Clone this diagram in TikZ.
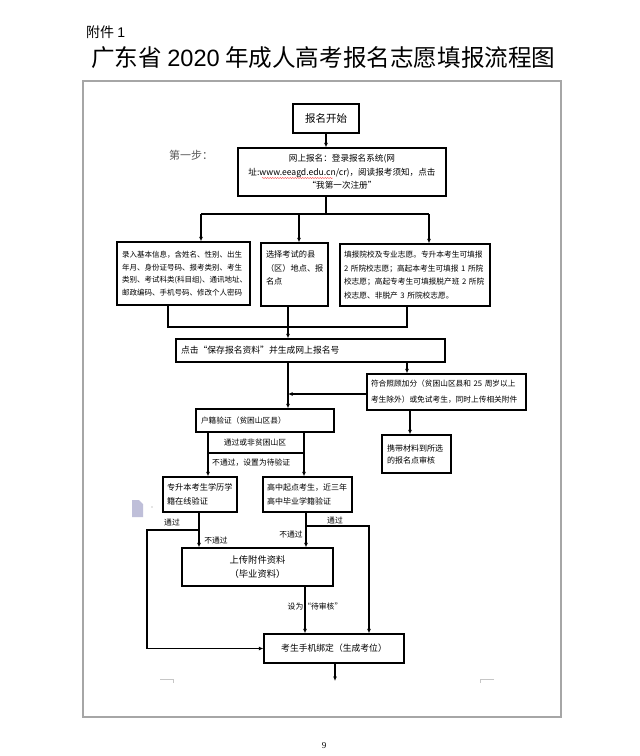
\documentclass[tikz,border=0pt]{standalone}
\usepackage{fontspec}
\setmainfont{Noto Sans CJK SC}
\newfontfamily\seriffont{Liberation Serif}
\newfontfamily\arialfont{Liberation Sans}
\usetikzlibrary{arrows.meta,decorations.pathmorphing}
\begin{document}
\begin{tikzpicture}[x=1pt,y=-1pt,
  box/.style={draw, line width=1.4pt, inner xsep=5pt, inner ysep=0pt, font=\fontsize{7.7}{13.5}\selectfont},
  con/.style={line width=1.2pt},
  arr/.style={con,-{Latex[length=4.5pt,width=4pt]}},
  lbl/.style={font=\fontsize{7.8}{9}\selectfont, inner sep=0pt}
]
\useasboundingbox (0,0) rectangle (640,756);
\fill[white] (0,0) rectangle (640,756);
% header
\node[anchor=west, font=\fontsize{14}{14}\selectfont, inner sep=0pt] (att) at (86,32) {附件 {\arialfont 1}};
\node[anchor=west, font=\fontsize{23.6}{25}\selectfont, inner sep=0pt] (title) at (91,58) {广东省 {\arialfont 2020} 年成人高考报名志愿填报流程图};
% page frame
\draw[gray!70, line width=1.2pt] (83,81) rectangle (561,717);
% step label
\node[font=\fontsize{11}{11}\selectfont, text=black!65, inner sep=0pt] (step1) at (191,155) {第一步：};
% boxes
\node[box, minimum width=66, minimum height=29, font=\fontsize{10.5}{12}\selectfont] (start) at (326,118.5) {报名开始};
\node[box, text width=198, align=center, minimum height=48, font=\fontsize{8.6}{13.5}\selectfont] (reg) at (342,172) {网上报名：登录报名系统(网\\址:www.eeagd.edu.cn/cr)，阅读报考须知，点击\\“我第一次注册”};
\node[box, text width=123, align=left, minimum height=63, font=\fontsize{7.5}{12.7}\selectfont] (info) at (183.5,273.5) {录入基本信息，含姓名、性别、出生\\年月、身份证号码、报考类别、考生\\类别、考试科类(科目组)、通讯地址、\\邮政编码、手机号码、修改个人密码};
\node[box, text width=57, align=left, minimum height=63, font=\fontsize{8.2}{13.5}\selectfont] (county) at (294.5,274.5) {选择考试的县\\（区）地点、报\\名点\\\mbox{}};
\node[box, text width=142, inner xsep=4pt, align=left, minimum height=62] (wish) at (415,275) {填报院校及专业志愿。专升本考生可填报\\2 所院校志愿；高起本考生可填报 1 所院\\校志愿；高起专考生可填报脱产班 2 所院\\校志愿、非脱产 3 所院校志愿。};
\node[box, text width=259, align=left, minimum height=23, font=\fontsize{8.8}{11}\selectfont] (save) at (310.5,350.5) {点击“保存报名资料”并生成网上报名号};
\node[box, text width=151, inner xsep=4pt, align=left, minimum height=36, font=\fontsize{7.7}{16}\selectfont] (bonus) at (446.5,392) {符合照顾加分（贫困山区县和 25 周岁以上\\考生除外）或免试考生，同时上传相关附件};
\node[box, text width=59, align=left, minimum height=38, font=\fontsize{8}{12}\selectfont] (carry) at (416.5,454) {携带材料到所选\\的报名点审核};
\node[box, text width=128, align=left, minimum height=23, font=\fontsize{7.7}{10}\selectfont] (hukou) at (265,420.5) {户籍验证（贫困山区县）};
\node[box, text width=66, inner xsep=4pt, align=left, minimum height=35, font=\fontsize{8.2}{14.5}\selectfont] (zsb) at (200,494.5) {专升本考生学历学\\籍在线验证};
\node[box, text width=81, inner xsep=4pt, align=left, minimum height=35, font=\fontsize{8}{14.5}\selectfont] (gz) at (307.5,494.5) {高中起点考生，近三年\\高中毕业学籍验证};
\node[box, text width=141, align=center, minimum height=38, font=\fontsize{9.3}{14}\selectfont] (upload) at (257.5,567) {上传附件资料\\（毕业资料）};
\node[box, text width=130, align=center, minimum height=29, font=\fontsize{8.8}{11}\selectfont] (phone) at (334,648.5) {考生手机绑定（生成考位）};
% helper coordinates
\coordinate (j1) at (326,214);
\coordinate (jl) at (201,214);
\coordinate (jm) at (299,214);
\coordinate (jr) at (429,214);
\coordinate (cL) at (168,327);
\coordinate (cM) at (288,327);
\coordinate (cR) at (407,327);
\coordinate (sL) at (288,394);
\coordinate (sR) at (407,374);
\coordinate (bC) at (410,435);
\coordinate (hL) at (208,453);
\coordinate (hR) at (304,453);
\coordinate (zB) at (199,530);
\coordinate (zL) at (147,530);
\coordinate (gB) at (306,526);
\coordinate (gR) at (369,526);
\coordinate (uB) at (305,600);
\coordinate (pE) at (335,681);
% connectors
\draw[arr] (start.south) -- (start.south |- reg.north);
\draw[con] (start.south |- reg.south) -- (j1);
\draw[con] (jl) -- (jr);
\draw[arr] (jl) -- (jl |- info.north);
\draw[arr] (jm) -- (jm |- county.north);
\draw[arr] (jr) -- (jr |- wish.north);
\draw[con] (info.south -| cL) -- (cL) -- (cR) -- (wish.south -| cR);
\draw[arr] (county.south -| cM) -- (save.north -| cM);
\draw[arr] (save.south -| sL) -- (hukou.north -| sL);
\draw[arr] (save.south -| sR) -- (bonus.north -| sR);
\draw[arr] (bonus.west |- sL) -- (sL);
\draw[arr] (bonus.south -| bC) -- (carry.north -| bC);
\draw[arr] (hukou.south -| hL) -- (zsb.north -| hL);
\draw[arr] (hukou.south -| hR) -- (gz.north -| hR);
\draw[con] (hL) -- (hR);
\draw[arr] (zsb.south -| zB) -- (upload.north -| zB);
\draw[arr] (zB) -- (zL) -- (zL |- phone.west) -- (phone.west);
\draw[arr] (gz.south -| gB) -- (upload.north -| gB);
\draw[arr] (gB) -- (gR) -- (phone.north -| gR);
\draw[arr] (upload.south -| uB) -- (phone.north -| uB);
\draw[arr] (phone.south -| pE) -- (pE);
% labels
\node[lbl] (t1) at (255,443) {通过或非贫困山区};
\node[lbl, anchor=west] (t2) at (212,463) {不通过，设置为待验证};
\node[lbl] (t3) at (172,523) {通过};
\node[lbl] (t4) at (216,541) {不通过};
\node[lbl] (t5) at (335,521) {通过};
\node[lbl] (t6) at (291,535) {不通过};
\node[lbl] (t7) at (315,607) {设为“待审核”};
% spell-check squiggle under URL
\draw[red!70, line width=0.4pt, decorate, decoration={snake, amplitude=0.6pt, segment length=2.5pt}] (262,178) -- (333,178);
% document icon
\fill[blue!25!gray!40] (132,500) -- (139,500) -- (143,504) -- (143,517) -- (132,517) -- cycle;
\fill[gray!40] (152,507) circle (0.8pt);
% corner marks
\draw[gray!45, line width=0.8pt] (160,679) -- (173,679) -- (173,683);
\draw[gray!45, line width=0.8pt] (494,679) -- (480,679) -- (480,683);
% page number
\node[font=\seriffont\fontsize{9}{9}\selectfont, inner sep=0pt] (pg) at (324,746) {9};
\end{tikzpicture}
\end{document}
